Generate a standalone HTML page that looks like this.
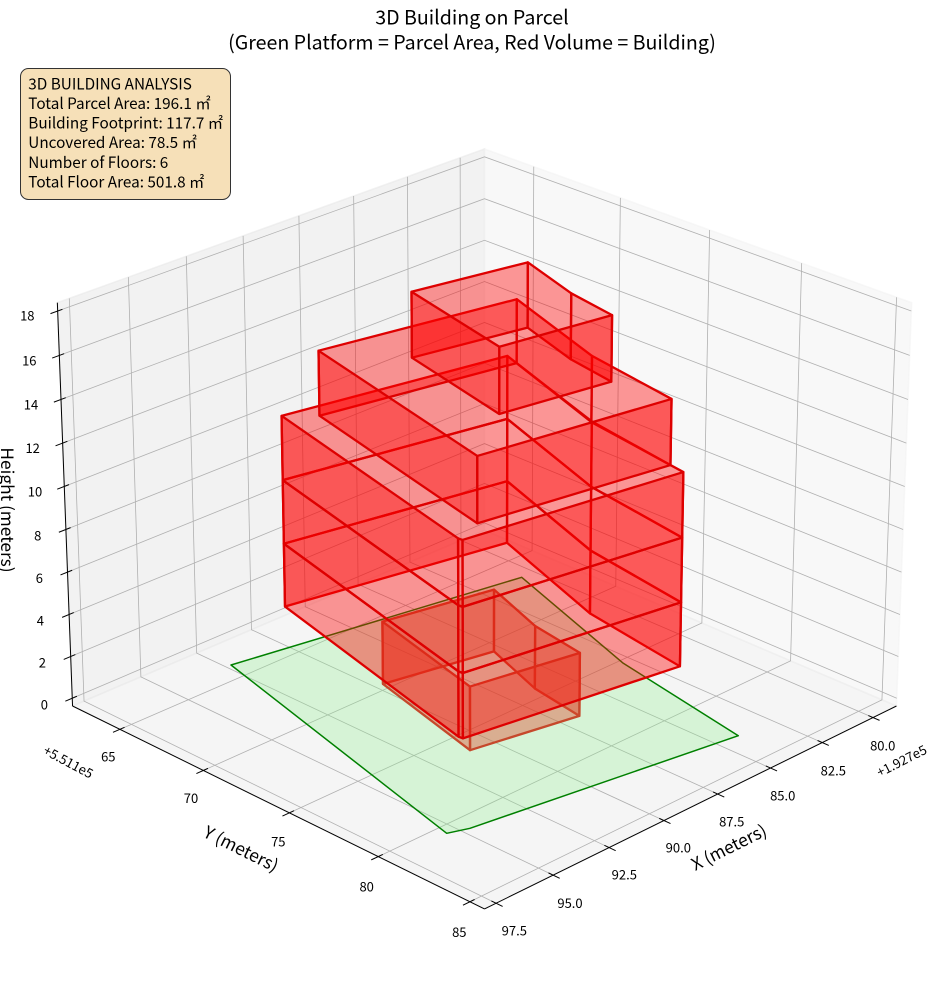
<!DOCTYPE html>
<html><head><meta charset="utf-8">
<style>
html,body{margin:0;padding:0;background:#fff;}
svg{display:block;}
text{font-family:"Noto Sans CJK JP","Liberation Sans",sans-serif;fill:#000;}
</style></head>
<body>
<svg id="s" width="944" height="992" viewBox="0 0 944 992" xmlns="http://www.w3.org/2000/svg">
<rect x="0" y="0" width="944" height="992" fill="#fff"/>
<g id="geo"></g>

<!-- Title -->
<text x="472" y="24.5" font-size="19.6" text-anchor="middle">3D Building on Parcel</text>
<text x="472" y="49.5" font-size="19.6" text-anchor="middle">(Green Platform = Parcel Area, Red Volume = Building)</text>

<!-- Z tick labels -->
<g font-size="13" text-anchor="middle">
<text x="27.3" y="320.6">18</text>
<text x="29.3" y="365.3">16</text>
<text x="31" y="409.6">14</text>
<text x="32.7" y="452.9">12</text>
<text x="35" y="496.3">10</text>
<text x="37.7" y="540.6">8</text>
<text x="39.3" y="582.9">6</text>
<text x="40.3" y="625.3">4</text>
<text x="42.3" y="667.3">2</text>
<text x="44.3" y="709.6">0</text>
<!-- X tick labels -->
<text x="882.7" y="750.3">80.0</text>
<text x="833.3" y="775.3">82.5</text>
<text x="782.7" y="800.3">85.0</text>
<text x="731.7" y="826.3">87.5</text>
<text x="678.3" y="852.3">90.0</text>
<text x="624.3" y="879.6">92.5</text>
<text x="570" y="907.9">95.0</text>
<text x="514.3" y="935.3">97.5</text>
<!-- Y tick labels -->
<text x="108.3" y="761.3">65</text>
<text x="191" y="802.9">70</text>
<text x="278.3" y="846.3">75</text>
<text x="366.7" y="891.3">80</text>
<text x="459.3" y="936.9">85</text>
</g>

<!-- offsets -->
<text font-size="13" text-anchor="middle" transform="translate(901.7,761) rotate(-27)" y="4.6">+1.927e5</text>
<text font-size="13" text-anchor="middle" transform="translate(68.3,762) rotate(28)" y="4.6">+5.511e5</text>

<!-- axis labels -->
<text font-size="17.3" text-anchor="middle" transform="translate(729,847.5) rotate(-26.5)" y="6">X (meters)</text>
<text font-size="17.3" text-anchor="middle" transform="translate(241,849) rotate(26.5)" y="6">Y (meters)</text>
<text font-size="17.3" text-anchor="middle" transform="translate(1,510) rotate(90)" y="0">Height (meters)</text>

<!-- Info box -->
<rect x="20.5" y="68.5" width="210" height="131" rx="8" ry="8" fill="rgb(246,224,184)" stroke="#333" stroke-width="1"/>
<g font-size="15.3">
<text x="28.3" y="89.5">3D BUILDING ANALYSIS</text>
<text x="28.3" y="109">Total Parcel Area: 196.1 ㎡</text>
<text x="28.3" y="128.3">Building Footprint: 117.7 ㎡</text>
<text x="28.3" y="148">Uncovered Area: 78.5 ㎡</text>
<text x="28.3" y="168">Number of Floors: 6</text>
<text x="28.3" y="187.7">Total Floor Area: 501.8 ㎡</text>
</g>
</svg>
<script>
(function(){
const NS='http://www.w3.org/2000/svg';
const G=document.getElementById('geo');
const D2R=Math.PI/180;
const el=25*D2R, az=45*D2R;
const A=8/7, Zs=6/7;
const X0=78.83,X1=98.00,Y0=62.09,Y1=85.78,Z0=-0.375,Z1=18.375;
const S=5190, CX=484.5, CY=508;
const ce=Math.cos(el), se=Math.sin(el), ca=Math.cos(az), sa=Math.sin(az);
const U=[-sa,ca,0], V=[-se*ca,-se*sa,ce], W=[ce*ca,ce*sa,se];
function P(x,y,z){
  const qx=(x-X0)/(X1-X0)*A-A/2, qy=(y-Y0)/(Y1-Y0)*A-A/2, qz=(z-Z0)/(Z1-Z0)*Zs-Zs/2;
  const qu=U[0]*qx+U[1]*qy+U[2]*qz, qv=V[0]*qx+V[1]*qy+V[2]*qz, qw=W[0]*qx+W[1]*qy+W[2]*qz;
  const den=10-qw;
  return [CX+S*qu/den, CY-S*qv/den, qw];
}
function invp(px,py,z){
  const sx=(px-CX)/S, sy=(CY-py)/S;
  const qz=(z-Z0)/(Z1-Z0)*Zs-Zs/2;
  const a11=U[0]+sx*W[0], a12=U[1]+sx*W[1], b1=10*sx-sx*W[2]*qz-U[2]*qz;
  const a21=V[0]+sy*W[0], a22=V[1]+sy*W[1], b2=10*sy-sy*W[2]*qz-V[2]*qz;
  const det=a11*a22-a12*a21;
  const qx=(b1*a22-a12*b2)/det, qy=(a11*b2-a21*b1)/det;
  return [X0+(qx+A/2)/A*(X1-X0), Y0+(qy+A/2)/A*(Y1-Y0)];
}
function add(tag,attrs){const e=document.createElementNS(NS,tag);for(const k in attrs)e.setAttribute(k,attrs[k]);G.appendChild(e);return e;}
function pts(arr){return arr.map(p=>p[0].toFixed(2)+','+p[1].toFixed(2)).join(' ');}

// panes
add('polygon',{points:pts([P(X0,Y0,Z0),P(X1,Y0,Z0),P(X1,Y0,Z1),P(X0,Y0,Z1)]),fill:'rgb(230,230,230)','fill-opacity':0.5,stroke:'rgb(230,230,230)','stroke-opacity':0.5,'stroke-width':1.5});
add('polygon',{points:pts([P(X0,Y0,Z0),P(X0,Y1,Z0),P(X0,Y1,Z1),P(X0,Y0,Z1)]),fill:'rgb(242,242,242)','fill-opacity':0.5,stroke:'rgb(242,242,242)','stroke-opacity':0.5,'stroke-width':1.5});
add('polygon',{points:pts([P(X0,Y0,Z0),P(X1,Y0,Z0),P(X1,Y1,Z0),P(X0,Y1,Z0)]),fill:'rgb(236,236,236)','fill-opacity':0.5,stroke:'rgb(236,236,236)','stroke-opacity':0.5,'stroke-width':1.5});

// grid
const xt=[80,82.5,85,87.5,90,92.5,95,97.5], yt=[65,70,75,80,85], zt=[0,2,4,6,8,10,12,14,16,18];
const gs={fill:'none',stroke:'#b0b0b0','stroke-width':0.8};
xt.forEach(x=>add('polyline',Object.assign({points:pts([P(x,Y1,Z0),P(x,Y0,Z0),P(x,Y0,Z1)])},gs)));
yt.forEach(y=>add('polyline',Object.assign({points:pts([P(X1,y,Z0),P(X0,y,Z0),P(X0,y,Z1)])},gs)));
zt.forEach(z=>add('polyline',Object.assign({points:pts([P(X1,Y0,z),P(X0,Y0,z),P(X0,Y1,z)])},gs)));

// axis lines
const as={fill:'none',stroke:'#000','stroke-width':1};
add('polyline',Object.assign({points:pts([P(X0,Y1,Z0),P(X1,Y1,Z0)])},as));
add('polyline',Object.assign({points:pts([P(X1,Y0,Z0),P(X1,Y1,Z0)])},as));
add('polyline',Object.assign({points:pts([P(X1,Y0,Z0),P(X1,Y0,Z1)])},as));
xt.forEach(x=>add('polyline',Object.assign({points:pts([P(x,Y1+0.35,Z0),P(x,Y1-0.25,Z0)])},as)));
yt.forEach(y=>add('polyline',Object.assign({points:pts([P(X1+0.3,y,Z0),P(X1-0.2,y,Z0)])},as)));
zt.forEach(z=>add('polyline',Object.assign({points:pts([P(X1+0.3,Y0,z),P(X1-0.2,Y0,z)])},as)));

// footprints from measured screen coords
function fp(top,zt_,bot,zb){return top.map((p,i)=>{const a=invp(p[0],p[1],zt_),b=invp(bot[i][0],bot[i][1],zb);return[(a[0]+b[0])/2,(a[1]+b[1])/2];});}
const F6=fp([[411.7,291.7],[527.7,261.7],[571,293.3],[611.7,315],[499.3,346.7]],18,
            [[411.7,357.7],[527.7,328.3],[571,359.3],[611.7,381.7],[499.3,414]],15);
const F5=fp([[319,350.7],[516.7,299],[591.7,356],[671.7,399],[477.3,456]],15,
            [[319,415.7],[516.7,363.3],[591.7,421],[670.3,465],[477.3,523.3]],12);
const FB=fp([[283.3,415.7],[507.7,356],[591.7,422.7],[683.3,471.7],[462.7,540],[458.3,538.3]],12,
            [[283.3,606.7],[506.7,542.7],[590,613],[680,666.7],[462.7,738.3],[458.3,736.7]],3);
const F1=fp([[382.7,622.3],[494,589.3],[535,626.7],[580,652.7],[470,686.7]],3,
            [[382.7,683.3],[494,651.7],[535,687.7],[579.3,716],[470,750]],0);
const parcel=[[231,665],[521.7,577.3],[623.3,663.3],[738.3,735.7],[470,828.3],[446.7,833.3]].map(p=>invp(p[0],p[1],0));

function walls(f,z0,z1){
  const out=[];
  for(let i=0;i<f.length;i++){
    const a=f[i],b=f[(i+1)%f.length];
    const q=[P(a[0],a[1],z0),P(b[0],b[1],z0),P(b[0],b[1],z1),P(a[0],a[1],z1)];
    out.push({q:q,d:(q[0][2]+q[1][2]+q[2][2]+q[3][2])/4});
  }
  return out;
}
const ws={fill:'rgb(255,0,0)','fill-opacity':0.4,stroke:'rgb(222,0,0)','stroke-width':2.3,'stroke-linejoin':'round'};
function drawWalls(list){list.sort((a,b)=>a.d-b.d).forEach(w=>add('polygon',Object.assign({points:pts(w.q)},ws)));}

drawWalls(walls(F1,0,3));
add('polygon',{points:pts(parcel.map(p=>P(p[0],p[1],0))),fill:'rgb(144,238,144)','fill-opacity':0.3,stroke:'rgb(0,128,0)','stroke-width':1.5,'stroke-linejoin':'round'});
let rest=[].concat(walls(FB,3,6),walls(FB,6,9),walls(FB,9,12),walls(F5,12,15),walls(F6,15,18));
drawWalls(rest);
})();
</script>
</body></html>
